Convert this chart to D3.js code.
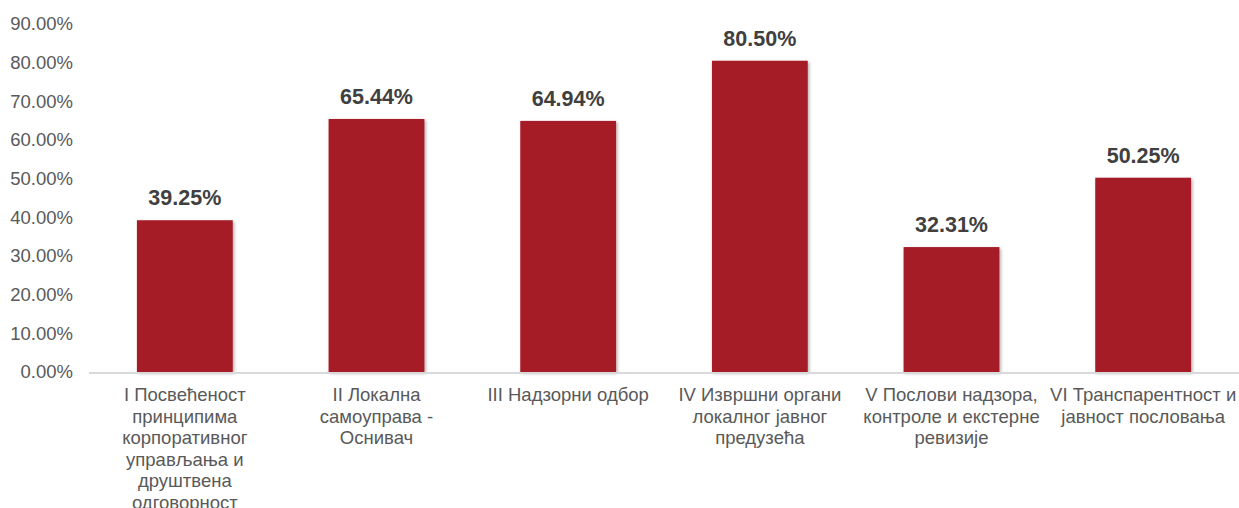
<!DOCTYPE html>
<html>
<head>
<meta charset="utf-8">
<script src="https://d3js.org/d3.v7.min.js"></script>
<style>
 body { margin: 0; background: #fff; }
 .tick text { fill: #595959; font: 18.5px "Liberation Sans", Arial, sans-serif; }
 .cat { fill: #595959; font: 18.5px "Liberation Sans", Arial, sans-serif; }
 .val { fill: #404040; font: bold 21.5px "Liberation Sans", Arial, sans-serif; }
 .bar { fill: #a51c28; }
</style>
</head>
<body>
<div id="chart"></div>
<script>
var categories = [
  ["I Посвећеност", "принципима", "корпоративног", "управљања и", "друштвена", "одговорност"],
  ["II Локална", "самоуправа -", "Оснивач"],
  ["III Надзорни одбор"],
  ["IV Извршни органи", "локалног јавног", "предузећа"],
  ["V Послови надзора,", "контроле и екстерне", "ревизије"],
  ["VI Транспарентност и", "јавност пословања"]
];
var values = [39.25, 65.44, 64.94, 80.50, 32.31, 50.25];
var yTicks = [0, 10, 20, 30, 40, 50, 60, 70, 80, 90];

var W = 1239, H = 508;
var margin = {left: 89, right: 1239, top: 24, bottom: 372};

var svg = d3.select("#chart").append("svg")
  .attr("width", W).attr("height", H);

var defs = svg.append("defs");
var f = defs.append("filter").attr("id", "sh").attr("x", "-10%").attr("y", "-10%").attr("width", "130%").attr("height", "130%");
f.append("feDropShadow").attr("dx", 1.5).attr("dy", 1.5).attr("stdDeviation", 1.5)
  .attr("flood-color", "#000").attr("flood-opacity", 0.3);

var x = d3.scaleBand().domain(d3.range(values.length)).range([margin.left, margin.right]).paddingInner(0.5).paddingOuter(0.25);
var y = d3.scaleLinear().domain([0, 90]).range([margin.bottom, margin.top]);

// y axis labels
var ya = svg.append("g").attr("transform", "translate(" + (margin.left - 16) + ",0)")
  .call(d3.axisLeft(y).tickValues(yTicks).tickSize(0).tickPadding(0)
    .tickFormat(function(d) { return d.toFixed(2) + "%"; }));
ya.select(".domain").remove();
ya.selectAll(".tick text").attr("font-family", null).attr("font-size", null);

// bars
svg.selectAll(".bar").data(values).enter().append("rect")
  .attr("class", "bar")
  .attr("filter", "url(#sh)")
  .attr("x", function(d, i) { return x(i); })
  .attr("y", function(d) { return y(d); })
  .attr("width", x.bandwidth())
  .attr("height", function(d) { return y(0) - y(d); });

// baseline
svg.append("line")
  .attr("x1", margin.left).attr("x2", margin.right)
  .attr("y1", y(0) + 1).attr("y2", y(0) + 1)
  .attr("stroke", "#d9d9d9").attr("stroke-width", 2);

// value labels
svg.selectAll(".val").data(values).enter().append("text")
  .attr("class", "val")
  .attr("text-anchor", "middle")
  .attr("x", function(d, i) { return x(i) + x.bandwidth() / 2; })
  .attr("y", function(d) { return y(d) - 15; })
  .text(function(d) { return d.toFixed(2) + "%"; });

// category labels
svg.selectAll(".cat").data(categories).enter().append("text")
  .attr("class", "cat")
  .attr("text-anchor", "middle")
  .attr("x", function(d, i) { return x(i) + x.bandwidth() / 2; })
  .attr("y", margin.bottom + 29)
  .selectAll("tspan").data(function(d) { return d; }).enter().append("tspan")
  .attr("x", function() { return d3.select(this.parentNode).attr("x"); })
  .attr("dy", function(d, i) { return i === 0 ? 0 : 21.6; })
  .text(function(d) { return d; });
</script>
</body>
</html>
